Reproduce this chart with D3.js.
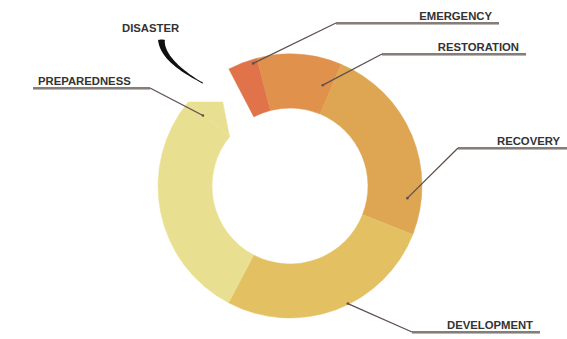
<!DOCTYPE html>
<html>
<head>
<meta charset="utf-8">
<script src="https://cdn.jsdelivr.net/npm/d3@7"></script>
<style>
  html, body { margin: 0; padding: 0; background: #fff; }
  svg { display: block; }
  text { font-family: "Liberation Sans", Arial, sans-serif; font-weight: bold; }
</style>
</head>
<body>
<div id="chart"></div>
<script>
// Phases of the cycle, clockwise from the gap after the disaster
const phases = ['EMERGENCY', 'RESTORATION', 'RECOVERY', 'DEVELOPMENT', 'PREPAREDNESS'];
// Share of the ring taken by each phase (degrees of arc)
const spans = [13.1, 37.3, 88.7, 96.2, 101.8];
const colors = ['#e0734a', '#e0924c', '#dea552', '#e3c062', '#e8e090'];

const width = 567, height = 339;
const cx = 290, cy = 186;
const outerR = 132, innerR = 78;
const startDeg = -27.6;

// Label layout: underline y, extent, and where the leader touches the ring
const labelLayout = [
  { y: 23,  x1: 336, x2: 499, side: 'right', angle: -16.7, r: 128 },
  { y: 54,  x1: 382, x2: 526, side: 'right', angle: 18,    r: 106 },
  { y: 148, x1: 458, x2: 567, side: 'right', angle: 95.9,  r: 118 },
  { y: 332, x1: 412, x2: 540, side: 'right', angle: 153.8, r: 131 },
  { y: 88,  x1: 33,  x2: 150, side: 'left',  angle: -51,   r: 112 }
];

const rad = d => d * Math.PI / 180;
const polar = (a, r) => [cx + r * Math.sin(a), cy - r * Math.cos(a)];

const svg = d3.select('#chart')
  .append('svg')
  .attr('width', width)
  .attr('height', height);

const pie = d3.pie()
  .sort(null)
  .value(d => d)
  .startAngle(rad(startDeg))
  .endAngle(rad(startDeg + d3.sum(spans)));

const arcs = pie(spans);
const arc = d3.arc().innerRadius(innerR).outerRadius(outerR);

const ring = svg.append('g');

ring.selectAll('path.seg')
  .data(arcs)
  .enter()
  .append('path')
  .attr('class', 'seg')
  .attr('d', arc)
  .attr('fill', (d, i) => colors[i])
  .attr('stroke', (d, i) => colors[i])
  .attr('stroke-width', 0.5)
  .attr('transform', `translate(${cx},${cy})`);

// Flag-shaped tip at the end of the preparedness phase
const last = arcs[arcs.length - 1];
const outerEnd = polar(last.endAngle, outerR);
const innerEnd = polar(last.endAngle, innerR);
const corner = [innerEnd[0] - 7, outerEnd[1]];
ring.append('path')
  .attr('d', d3.line()([outerEnd, corner, [innerEnd[0] - 1, innerEnd[1] - 3], innerEnd]))
  .attr('fill', colors[colors.length - 1])
  .attr('stroke', colors[colors.length - 1])
  .attr('stroke-width', 0.5);

// Disaster swoosh aimed at the gap in the ring
const gapMid = (last.endAngle + arcs[0].startAngle + 2 * Math.PI) / 2;
const p0 = polar(gapMid - rad(2.3), outerR + 62.5);
const pc = polar(gapMid - rad(6.6), outerR + 47.4);
const p2 = polar(gapMid - rad(1.2), outerR + 2.6);
const bez = t => [
  (1 - t) * (1 - t) * p0[0] + 2 * (1 - t) * t * pc[0] + t * t * p2[0],
  (1 - t) * (1 - t) * p0[1] + 2 * (1 - t) * t * pc[1] + t * t * p2[1]
];
const steps = d3.range(0, 1.0001, 0.05);
const leftSide = [], rightSide = [];
steps.forEach(t => {
  const p = bez(t);
  const q = bez(Math.min(1, t + 0.01));
  const b = bez(Math.max(0, t - 0.01));
  const dx = q[0] - b[0], dy = q[1] - b[1];
  const len = Math.hypot(dx, dy) || 1;
  const nx = -dy / len, ny = dx / len;
  const w = 3 * Math.pow(1 - t, 0.9) + 0.3;
  leftSide.push([p[0] + nx * w, p[1] + ny * w]);
  rightSide.push([p[0] - nx * w, p[1] - ny * w]);
});
svg.append('path')
  .attr('d', d3.line().curve(d3.curveCatmullRomClosed)(leftSide.concat(rightSide.reverse())))
  .attr('fill', '#111');

svg.append('text')
  .attr('x', 122)
  .attr('y', 32)
  .attr('font-size', '11.3px')
  .attr('fill', '#333')
  .text('DISASTER');

// Labels with underline and leader
const labels = svg.append('g');
phases.forEach((name, i) => {
  const L = labelLayout[i];
  const g = labels.append('g');
  const anchor = polar(rad(L.angle), L.r);
  const start = L.side === 'right' ? [L.x1, L.y] : [L.x2, L.y];

  g.append('line')
    .attr('x1', L.x1).attr('x2', L.x2)
    .attr('y1', L.y + 1.5).attr('y2', L.y + 1.5)
    .attr('stroke', '#bdb5b2').attr('stroke-width', 1);
  g.append('line')
    .attr('x1', L.x1).attr('x2', L.x2)
    .attr('y1', L.y).attr('y2', L.y)
    .attr('stroke', '#5e504d').attr('stroke-width', 1.3);
  g.append('line')
    .attr('x1', start[0]).attr('y1', start[1])
    .attr('x2', anchor[0]).attr('y2', anchor[1])
    .attr('stroke', '#5e504d').attr('stroke-width', 1.3);
  g.append('circle')
    .attr('cx', anchor[0]).attr('cy', anchor[1])
    .attr('r', 1.3).attr('fill', '#5e504d');

  g.append('text')
    .attr('x', L.side === 'right' ? L.x2 - 7 : L.x1 + 5)
    .attr('y', L.y - 3)
    .attr('text-anchor', L.side === 'right' ? 'end' : 'start')
    .attr('font-size', '11.3px')
    .attr('fill', '#333')
    .text(name);
});
</script>
</body>
</html>
